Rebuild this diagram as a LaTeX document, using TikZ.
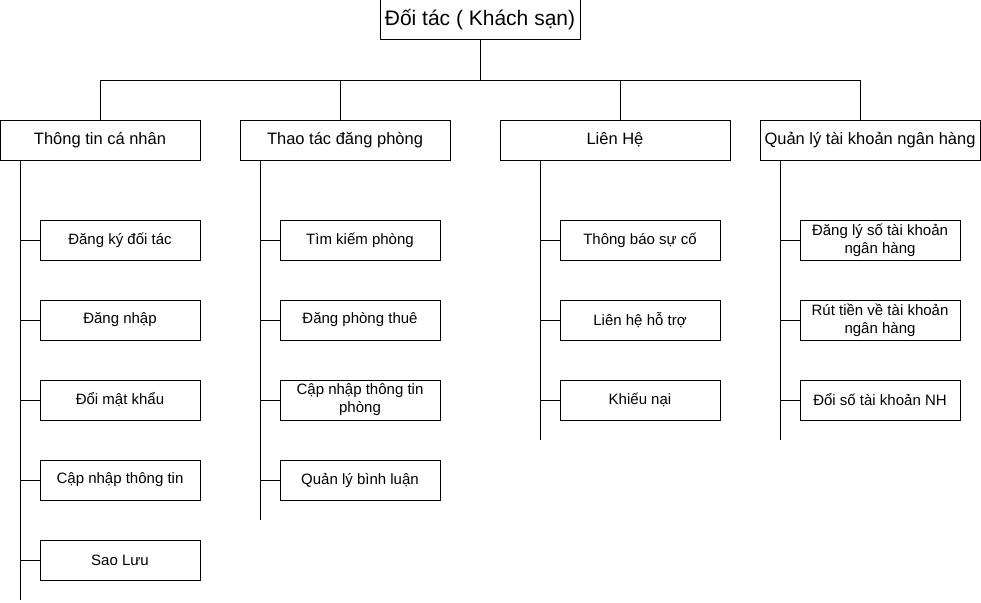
\documentclass[tikz,border=0pt]{standalone}
\usepackage{fontspec}
\setmainfont{Liberation Sans}
\begin{document}
\begin{tikzpicture}[x=1pt,y=-1pt,line width=1pt,outer sep=0pt,
    box/.style={draw,minimum width=160pt,minimum height=40pt,inner sep=0pt,align=center,font=\fontsize{15}{18}\selectfont},
    head/.style={draw,minimum height=40pt,inner sep=0pt,font=\fontsize{16.5}{19}\selectfont}]
  \useasboundingbox (0,0) rectangle (981,602);
  % root
  \node[draw,minimum width=200pt,minimum height=40pt,inner sep=0pt,font=\fontsize{21}{24}\selectfont] (root) at (480,20) {Đối tác ( Khách sạn)};
  % level 1
  \node[head,minimum width=200pt] (info) at (100,140) {Thông tin cá nhân};
  \node[head,minimum width=210pt] (room) at (345,140) {Thao tác đăng phòng};
  \node[head,minimum width=230pt] (contact) at (615,140) {Liên Hệ};
  \node[head,minimum width=220pt] (bank) at (870,140) {Quản lý tài khoản ngân hàng};
  \draw (root.south) -- ++(0,40) -| (info.north);
  \draw (root.south) -- ++(0,40) -| ([xshift=-5pt]room.north);
  \draw (root.south) -- ++(0,40) -| ([xshift=5pt]contact.north);
  \draw (root.south) -- ++(0,40) -| ([xshift=-10pt]bank.north);
  % Thong tin ca nhan
  \node[box] (i1) at (120,240) {Đăng ký đối tác};
  \node[box] (i2) at (120,320) {Đăng nhập};
  \node[box] (i3) at (120,400) {Đổi mật khẩu};
  \node[box] (i4) at (120,480) {Cập nhập thông tin};
  \node[box] (i5) at (120,560) {Sao Lưu};
  \coordinate (infoend) at (20,600);
  \draw ([xshift=20pt]info.south west) -- (infoend);
  \foreach \n in {i1,i2,i3,i4,i5} \draw (\n.west) -- (\n.west -| infoend);
  % Thao tac dang phong
  \node[box] (r1) at (360,240) {Tìm kiếm phòng};
  \node[box] (r2) at (360,320) {Đăng phòng thuê};
  \node[box] (r3) at (360,400) {Cập nhập thông tin\\phòng};
  \node[box] (r4) at (360,480) {Quản lý bình luận};
  \coordinate (roomend) at (260,520);
  \draw ([xshift=20pt]room.south west) -- (roomend);
  \foreach \n in {r1,r2,r3,r4} \draw (\n.west) -- (\n.west -| roomend);
  % Lien he
  \node[box] (c1) at (640,240) {Thông báo sự cố};
  \node[box] (c2) at (640,320) {Liên hệ hỗ trợ};
  \node[box] (c3) at (640,400) {Khiếu nại};
  \coordinate (contactend) at (540,440);
  \draw ([xshift=40pt]contact.south west) -- (contactend);
  \foreach \n in {c1,c2,c3} \draw (\n.west) -- (\n.west -| contactend);
  % Quan ly tai khoan ngan hang
  \node[box] (b1) at (880,240) {Đăng lý số tài khoản\\ngân hàng};
  \node[box] (b2) at (880,320) {Rút tiền về tài khoản\\ngân hàng};
  \node[box] (b3) at (880,400) {Đổi số tài khoản NH};
  \coordinate (bankend) at (780,440);
  \draw ([xshift=20pt]bank.south west) -- (bankend);
  \foreach \n in {b1,b2,b3} \draw (\n.west) -- (\n.west -| bankend);
\end{tikzpicture}
\end{document}
